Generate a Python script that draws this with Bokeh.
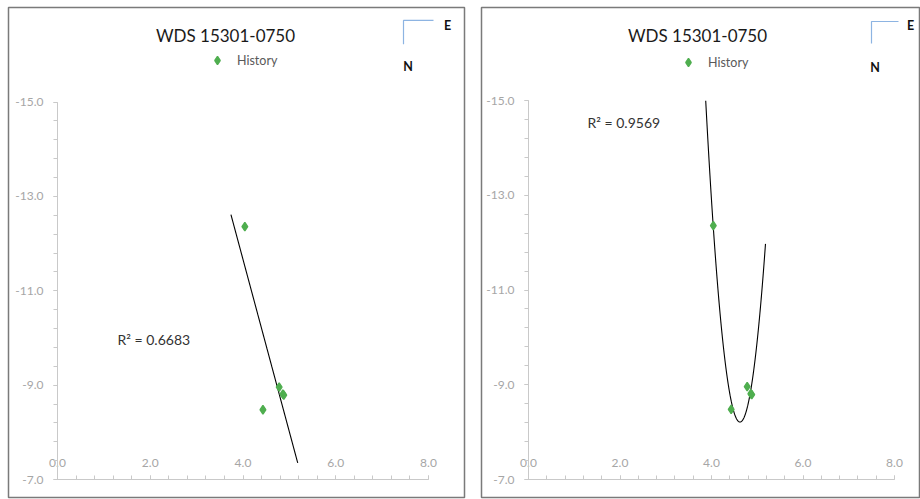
import numpy as np
from bokeh.plotting import figure
from bokeh.models import (Range1d, LinearAxis, FixedTicker, NumeralTickFormatter,
                          Label, Legend, LegendItem)
from bokeh.layouts import row
from bokeh.embed import file_html
from bokeh.resources import INLINE

# ---------------- data ----------------
chart_title = "WDS 15301-0750"
series_name = "History"
x_values = [4.04, 4.43, 4.78, 4.86, 4.88]
y_values = [-12.36, -8.48, -8.96, -8.81, -8.79]
x_ticks = [0.0, 2.0, 4.0, 6.0, 8.0]
y_ticks = [-15.0, -13.0, -11.0, -9.0, -7.0]
minor_per_major = 5
fit_orders = [1, 2]
r2_labels = ["R\u00b2 = 0.6683", "R\u00b2 = 0.9569"]
forecast = 0.3
compass_labels = ["E", "N"]

FONT = "Lato"
AXIS_COLOR = "#c9c9c9"
LABEL_COLOR = "#a6a6a6"
GREEN = "#4fae4f"
BLUE = "#8db4e2"

# per-panel layout (page pixels)
panels = [
    dict(canvas_left=0, canvas_width=466, frame=(8, 464, 5, 497),
         x0=57, x8=428, y15=100, y7=479,
         title=(225, 33), legend=(217, 60), r2=(117, 338),
         compass=(403, 433, 18, 42), e=(447, 23), n=(407.5, 64)),
    dict(canvas_left=466, canvas_width=454, frame=(481, 920, 7, 497),
         x0=528, x8=894, y15=100, y7=479,
         title=(697, 35), legend=(688, 62), r2=(587, 122),
         compass=(871, 898, 21, 43), e=(910, 24.5), n=(874.5, 66.5)),
]


def minor_ticks(ticks):
    n = (len(ticks) - 1) * minor_per_major + 1
    return list(np.linspace(min(ticks), max(ticks), n))


def make_panel(i, cfg):
    fl, fr, ft, fb = cfg["frame"]
    xlo, xhi = min(x_ticks), max(x_ticks)
    ylo, yhi = min(y_ticks), max(y_ticks)  # -15 (top), -7 (bottom)
    sx = (cfg["x8"] - cfg["x0"]) / (xhi - xlo)
    sy = (cfg["y7"] - cfg["y15"]) / (yhi - ylo)

    def X(px):
        return xlo + (px - cfg["x0"]) / sx

    def Y(py):
        return ylo + (py - cfg["y15"]) / sy

    p = figure(width=cfg["canvas_width"], height=499,
               x_range=Range1d(X(fl), X(fr)),
               y_range=Range1d(Y(fb), Y(ft)),
               x_axis_location=None, y_axis_location=None,
               toolbar_location=None, output_backend="svg", title=None,
               min_border_left=fl - cfg["canvas_left"],
               min_border_right=cfg["canvas_left"] + cfg["canvas_width"] - fr,
               min_border_top=ft, min_border_bottom=499 - fb)
    p.grid.visible = False
    p.outline_line_color = "#7a7a7a"
    p.outline_line_width = 1.5
    p.background_fill_color = "white"
    p.border_fill_color = "white"

    # y axis (reversed values, crossing at x = 0)
    yaxis = LinearAxis(fixed_location=xlo, bounds=(ylo, yhi),
                       ticker=FixedTicker(ticks=y_ticks, minor_ticks=minor_ticks(y_ticks)),
                       formatter=NumeralTickFormatter(format="0.0"))
    # x axis (crossing at y = -7, labels above the line)
    xaxis = LinearAxis(fixed_location=yhi, bounds=(xlo, xhi),
                       ticker=FixedTicker(ticks=x_ticks, minor_ticks=minor_ticks(x_ticks)),
                       formatter=NumeralTickFormatter(format="0.0"))
    for ax, standoff in ((yaxis, 10), (xaxis, 9)):
        ax.axis_line_color = AXIS_COLOR
        ax.major_tick_line_color = AXIS_COLOR
        ax.minor_tick_line_color = AXIS_COLOR
        ax.major_tick_in = 0
        ax.major_tick_out = 4
        ax.minor_tick_in = 0
        ax.minor_tick_out = 4
        ax.major_label_standoff = standoff
        ax.major_label_text_color = LABEL_COLOR
        ax.major_label_text_font = FONT
        ax.major_label_text_font_size = "12px"
    p.add_layout(yaxis, "left")
    p.add_layout(xaxis, "above")

    # trend line fitted to the data
    order = fit_orders[i]
    coef = np.polyfit(x_values, y_values, order)
    xs = np.linspace(min(x_values) - forecast, max(x_values) + forecast, 3000)
    ys = np.polyval(coef, xs)
    ys = np.where((ys < ylo) | (ys > yhi), np.nan, ys)
    p.line(xs, ys, color="black", line_width=1.1)

    r = p.scatter(x_values, y_values, marker="diamond", size=8.5,
                  fill_color=GREEN, line_color=GREEN, line_width=1.4)

    # title
    tx, ty = cfg["title"]
    p.add_layout(Label(x=X(tx), y=Y(ty), text=chart_title, text_align="center",
                       text_baseline="middle", text_font=FONT, text_font_size="17px",
                       text_color="#1a1a1a"))
    # legend
    lx, ly = cfg["legend"]
    legend = Legend(items=[LegendItem(label=series_name, renderers=[r])],
                    location=(lx - 10 - fl, fb - (ly + 10)),
                    padding=0, margin=0, glyph_width=20, glyph_height=20,
                    label_standoff=10, border_line_alpha=0, background_fill_alpha=0,
                    label_text_font=FONT, label_text_font_size="12.5px",
                    label_text_color="#595959")
    p.add_layout(legend, "center")

    # R² text
    rx, ry = cfg["r2"]
    p.add_layout(Label(x=X(rx), y=Y(ry), text=r2_labels[i], text_align="left",
                       text_baseline="middle", text_font=FONT, text_font_size="14px",
                       text_color="#333333"))

    # compass (E / N)
    cx0, cx1, cy0, cy1 = cfg["compass"]
    p.line([X(cx1), X(cx0), X(cx0)], [Y(cy0), Y(cy0), Y(cy1)], color=BLUE, line_width=1.2)
    ex, ey = cfg["e"]
    nx, ny = cfg["n"]
    for txt, (ax_, ay_) in zip(compass_labels, [(ex, ey), (nx, ny)]):
        p.add_layout(Label(x=X(ax_), y=Y(ay_), text=txt, text_align="center",
                           text_baseline="middle", text_font=FONT, text_font_style="bold",
                           text_font_size="12.5px", text_color="#111111"))
    return p


figs = [make_panel(i, cfg) for i, cfg in enumerate(panels)]
layout = row(*figs, spacing=0)

open("out.html", "w").write(file_html(layout, INLINE))
